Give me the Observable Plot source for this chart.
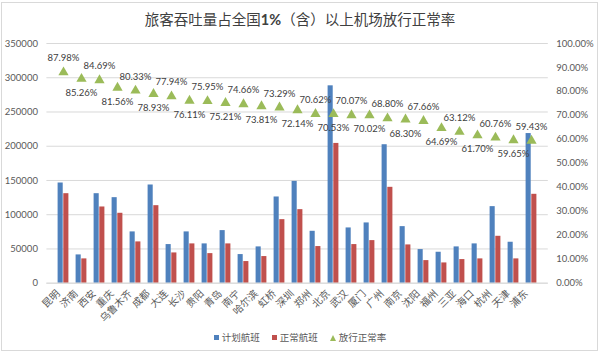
<!DOCTYPE html>
<html>
<head>
<meta charset="utf-8">
<script src="https://cdn.jsdelivr.net/npm/d3@7"></script>
<script src="https://cdn.jsdelivr.net/npm/@observablehq/plot@0.6"></script>
<style>
  html, body { margin: 0; padding: 0; background: #fff; }
  body { width: 600px; height: 353px; position: relative; overflow: hidden; font-family: Lato, "Noto Sans CJK SC", sans-serif; }
  #frame { position: absolute; left: 1px; top: 2px; width: 597px; height: 349px; box-sizing: border-box; border: 1px solid #d9d9d9; }
  #title { position: absolute; left: 0; top: 9px; width: 600px; text-align: center; font-size: 14.5px; color: #404040; line-height: 20px; font-family: "Noto Sans CJK SC", sans-serif; }
  #title b { font-family: Lato, sans-serif; font-weight: bold; }
  #plot { position: absolute; left: 0; top: 30px; }
  #legend { position: absolute; left: 0; top: 331px; width: 600px; display: flex; justify-content: center; gap: 12px; font-size: 9.5px; color: #595959; line-height: 13px; font-family: "Noto Sans CJK SC", sans-serif; }
  #legend .item { display: flex; align-items: center; gap: 3px; }
  #legend .sq { width: 5px; height: 5px; display: inline-block; }
  #legend .tri { width: 0; height: 0; border-left: 3.5px solid transparent; border-right: 3.5px solid transparent; border-bottom: 6px solid #9BBB59; display: inline-block; }
</style>
</head>
<body>
<div id="frame"></div>
<div id="title">旅客吞吐量占全国<b>1%</b>（含）以上机场放行正常率</div>
<div id="plot"></div>
<div id="legend"></div>
<script>
const cities = ["昆明","济南","西安","重庆","乌鲁木齐","成都","大连","长沙","贵阳","青岛","南宁","哈尔滨","虹桥","深圳","郑州","北京","武汉","厦门","广州","南京","沈阳","福州","三亚","海口","杭州","天津","浦东"];
const planned = [146300,41300,130700,124900,74900,143400,56400,74900,57400,76800,41800,53000,125900,148700,75800,288200,80700,88000,202200,82600,49100,45200,53000,57400,111800,59800,218500];
const normal = [130700,35500,111300,102100,60300,113200,44200,57400,43200,57400,31600,38900,92800,107400,53500,204100,56400,62200,140000,55900,33000,29600,34500,35500,68500,35500,129800];
const rates = [87.98,85.26,84.69,81.56,80.33,78.93,77.94,76.11,75.95,75.21,74.66,73.81,73.29,72.14,70.62,70.53,70.07,70.02,68.80,68.30,67.66,64.69,63.12,61.70,60.76,59.65,59.43];
const leftTicks = [0,50000,100000,150000,200000,250000,300000,350000];
const rightTicks = [0,10,20,30,40,50,60,70,80,90,100];
const seriesNames = ["计划航班","正常航班","放行正常率"];
const colors = ["#4F81BD","#C0504D","#9BBB59"];

const RMAX = 350000; // 100% on the right axis aligns with the top of the left axis
const data = cities.map((c, i) => ({city: c, planned: planned[i], normal: normal[i], rate: rates[i], i}));
const rateY = d => d.rate / 100 * RMAX;

const chart = Plot.plot({
  width: 600,
  height: 300,
  marginTop: 13,
  marginBottom: 47.3,
  marginLeft: 46.4,
  marginRight: 52.2,
  x: {domain: cities, padding: 0, axis: null, label: null},
  y: {domain: [0, RMAX], axis: null, label: null},
  style: {fontFamily: "Lato, 'Noto Sans CJK SC', sans-serif", fontSize: "9.5px", background: "transparent"},
  marks: [
    Plot.gridY(leftTicks, {stroke: "#d9d9d9", strokeOpacity: 1}),
    Plot.barY(data, {x: "city", y: "planned", fill: colors[0], insetLeft: 3.6, insetRight: 9.29}),
    Plot.barY(data, {x: "city", y: "normal", fill: colors[1], insetLeft: 9.29, insetRight: 3.6}),
    Plot.ruleY([0], {stroke: "#d9d9d9"}),
    Plot.dot(data, {x: "city", y: rateY, symbol: "triangle", fill: colors[2], r: 3.8}),
    Plot.text(data, {filter: d => d.i % 2 === 0, x: "city", y: rateY, text: d => d.rate.toFixed(2) + "%", dy: -14, fill: "#404040"}),
    Plot.text(data, {filter: d => d.i % 2 === 1, x: "city", y: rateY, text: d => d.rate.toFixed(2) + "%", dy: 14, fill: "#404040"}),
    Plot.axisY(leftTicks, {anchor: "left", tickSize: 0, tickPadding: 9, tickFormat: d => String(d), fill: "#595959", label: null}),
    Plot.axisY(rightTicks.map(p => p / 100 * RMAX), {anchor: "right", tickSize: 0, tickPadding: 8, tickFormat: d => (d / RMAX * 100).toFixed(2) + "%", fill: "#595959", label: null}),
    Plot.text(cities, {x: d => d, frameAnchor: "bottom", rotate: -45, textAnchor: "end", dx: -3, dy: 11, fill: "#595959", fontSize: 10, fontFamily: "'Noto Sans CJK SC', sans-serif"})
  ]
});
document.getElementById("plot").appendChild(chart);

const legend = document.getElementById("legend");
seriesNames.forEach((name, k) => {
  const item = document.createElement("span");
  item.className = "item";
  const sw = document.createElement("span");
  if (k < 2) { sw.className = "sq"; sw.style.background = colors[k]; }
  else { sw.className = "tri"; }
  item.appendChild(sw);
  const t = document.createElement("span");
  t.textContent = name;
  item.appendChild(t);
  legend.appendChild(item);
});
</script>
</body>
</html>
